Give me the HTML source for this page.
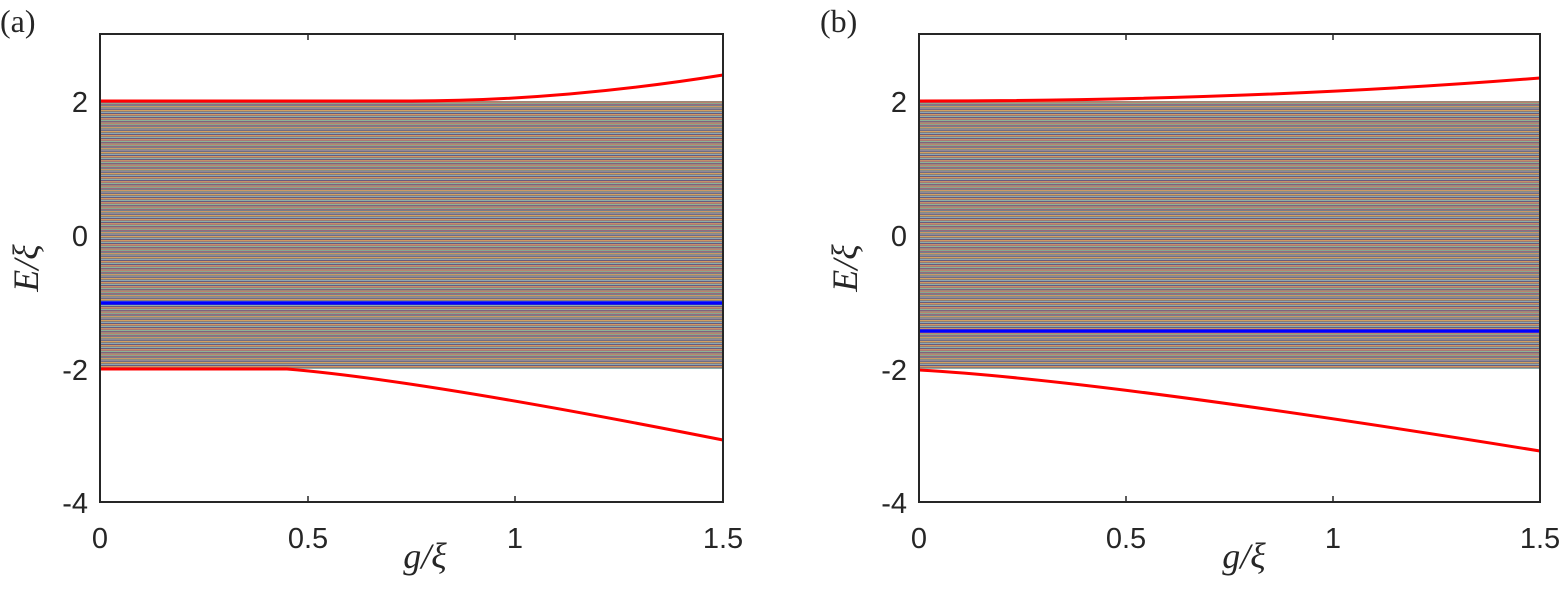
<!DOCTYPE html>
<html><head><style>
body{margin:0;background:#fff;width:1568px;height:592px;overflow:hidden}
</style></head><body>
<svg width="1568" height="592" xmlns="http://www.w3.org/2000/svg">
<defs>
<pattern id="band" patternUnits="userSpaceOnUse" width="10" height="4.2">
<rect y="0" width="10" height="0.6" fill="#0072BD"/>
<rect y="0.6" width="10" height="0.6" fill="#D95319"/>
<rect y="1.2" width="10" height="0.6" fill="#EDB120"/>
<rect y="1.8" width="10" height="0.6" fill="#7E2F8E"/>
<rect y="2.4" width="10" height="0.6" fill="#77AC30"/>
<rect y="3.0" width="10" height="0.6" fill="#4DBEEE"/>
<rect y="3.6" width="10" height="0.6" fill="#A2142F"/>
</pattern>
</defs>
<g font-family="Liberation Sans, sans-serif" font-size="29" fill="#262626">
<!-- panel a -->
<rect x="100" y="101" width="623" height="268" fill="url(#band)"/>
<rect x="100" y="101" width="623" height="268" fill="#999" opacity="0.2"/>
<line x1="100" y1="303" x2="723" y2="303" stroke="#0000ff" stroke-width="3.5"/>
<path d="M100 101 L411 101 Q560 101 723 75" fill="none" stroke="#ff0000" stroke-width="3"/>
<path d="M100 369 L287 369 Q420 380 723 440" fill="none" stroke="#ff0000" stroke-width="3"/>
<rect x="100" y="34" width="623" height="468" fill="none" stroke="#262626" stroke-width="2"/>
<g stroke="#262626" stroke-width="1.5">
<line x1="308" y1="34" x2="308" y2="40"/><line x1="515" y1="34" x2="515" y2="40"/>
<line x1="308" y1="502" x2="308" y2="496"/><line x1="515" y1="502" x2="515" y2="496"/>
</g>
<g text-anchor="end">
<text x="88" y="112">2</text><text x="88" y="246">0</text><text x="88" y="380">-2</text><text x="88" y="513">-4</text>
</g>
<g text-anchor="middle">
<text x="100" y="548">0</text><text x="308" y="548">0.5</text><text x="515" y="548">1</text><text x="723" y="548">1.5</text>
</g>
<text x="425" y="568" font-family="Liberation Serif, serif" font-style="italic" font-size="36" text-anchor="middle">g/ξ</text>
<text transform="translate(38,268) rotate(-90)" font-family="Liberation Serif, serif" font-style="italic" font-size="36" text-anchor="middle">E/ξ</text>
<text x="0" y="32" font-family="Liberation Serif, serif" font-size="32">(a)</text>

<!-- panel b -->
<rect x="919" y="101" width="621" height="268" fill="url(#band)"/>
<rect x="919" y="101" width="621" height="268" fill="#999" opacity="0.2"/>
<line x1="919" y1="331" x2="1540" y2="331" stroke="#0000ff" stroke-width="3.5"/>
<path d="M919 101 Q1250 101 1540 78" fill="none" stroke="#ff0000" stroke-width="3"/>
<path d="M919 370 Q1100 380 1540 451" fill="none" stroke="#ff0000" stroke-width="3"/>
<rect x="919" y="34" width="621" height="468" fill="none" stroke="#262626" stroke-width="2"/>
<g stroke="#262626" stroke-width="1.5">
<line x1="1126" y1="34" x2="1126" y2="40"/><line x1="1333" y1="34" x2="1333" y2="40"/>
<line x1="1126" y1="502" x2="1126" y2="496"/><line x1="1333" y1="502" x2="1333" y2="496"/>
</g>
<g text-anchor="end">
<text x="907" y="112">2</text><text x="907" y="246">0</text><text x="907" y="380">-2</text><text x="907" y="513">-4</text>
</g>
<g text-anchor="middle">
<text x="919" y="548">0</text><text x="1126" y="548">0.5</text><text x="1333" y="548">1</text><text x="1540" y="548">1.5</text>
</g>
<text x="1244" y="568" font-family="Liberation Serif, serif" font-style="italic" font-size="36" text-anchor="middle">g/ξ</text>
<text transform="translate(857,268) rotate(-90)" font-family="Liberation Serif, serif" font-style="italic" font-size="36" text-anchor="middle">E/ξ</text>
<text x="820" y="32" font-family="Liberation Serif, serif" font-size="32">(b)</text>
</g>
</svg>
</body></html>
